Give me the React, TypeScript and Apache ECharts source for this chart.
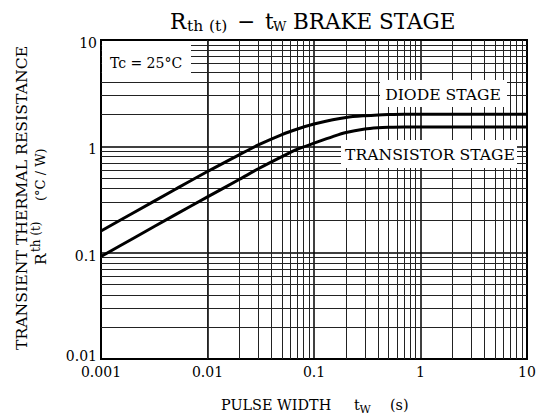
import React, { useEffect, useRef } from "react";
import * as echarts from "echarts";

const pulseWidth = [0.001, 0.002, 0.005, 0.01, 0.02, 0.03, 0.05, 0.07, 0.1, 0.15, 0.2, 0.3, 0.4, 0.5, 0.7, 1, 2, 5, 10];
const diodeStage = [0.16, 0.236, 0.395, 0.58, 0.837, 1.03, 1.29, 1.456, 1.62, 1.78, 1.87, 1.94, 1.975, 1.99, 2.0, 2.0, 2.0, 2.0, 2.0];
const transistorStage = [0.092, 0.136, 0.228, 0.335, 0.49, 0.615, 0.8, 0.94, 1.07, 1.235, 1.35, 1.455, 1.495, 1.51, 1.52, 1.52, 1.52, 1.52, 1.52];

const xTickLabels = ["0.001", "0.01", "0.1", "1", "10"];
const yTickLabels = ["0.01", "0.1", "1", "10"];
const xDecades = [0.001, 0.01, 0.1, 1];
const yDecades = [0.01, 0.1, 1];
const minorSteps = [2, 3, 4, 5, 6, 7, 8, 9];

const FONT = "'DejaVu Serif', 'Liberation Serif', serif";

function labelFor(list: string[], v: number) {
  const found = list.find((s) => Math.abs(Math.log10(Number(s)) - Math.log10(v)) < 1e-6);
  return found ?? "";
}

export default function App() {
  const ref = useRef<HTMLDivElement>(null);
  useEffect(() => {
    if (!ref.current) return;
    const chart = echarts.init(ref.current, null, { renderer: "svg" });
    const xMinor: number[] = [];
    xDecades.forEach((d) => minorSteps.forEach((k) => xMinor.push(d * k)));
    const yMinor: number[] = [];
    yDecades.forEach((d) => minorSteps.forEach((k) => yMinor.push(d * k)));

    const txt = (text: string, x: number, y: number, size: number, extra: any = {}) => ({
      type: "text",
      x,
      y,
      z: 101,
      ...extra,
      style: {
        text,
        fontSize: size,
        fontFamily: FONT,
        fill: "#000",
        align: extra.align ?? "left",
        textAlign: extra.align ?? "left",
        verticalAlign: "middle",
        textVerticalAlign: "middle",
      },
    });

    chart.setOption({
      animation: false,
      backgroundColor: "#fff",
      grid: {
        left: 101,
        right: 16,
        top: 40,
        bottom: 60,
        show: true,
        borderColor: "#000",
        borderWidth: 2,
        backgroundColor: "#fff",
      },
      xAxis: {
        type: "log",
        logBase: 10,
        min: 0.001,
        max: 10,
        splitNumber: 4,
        axisLine: { show: false },
        axisTick: { show: false },
        axisLabel: {
          color: "#000",
          fontFamily: FONT,
          fontSize: 14,
          margin: 6,
          formatter: (v: number) => labelFor(xTickLabels, v),
        },
        splitLine: { show: true, lineStyle: { color: "#000", width: 1.5 } },
      },
      yAxis: {
        type: "log",
        logBase: 10,
        min: 0.01,
        max: 10,
        splitNumber: 3,
        axisLine: { show: false },
        axisTick: { show: false },
        axisLabel: {
          color: "#000",
          fontFamily: FONT,
          fontSize: 14,
          margin: 4,
          formatter: (v: number) => {
            const s = labelFor(yTickLabels, v);
            return s === yTickLabels[0] ? `{lo|${s}}` : `{n|${s}}`;
          },
          rich: {
            n: { fontFamily: FONT, fontSize: 14, color: "#000", padding: [6, 0, 0, 0] },
            lo: { fontFamily: FONT, fontSize: 14, color: "#000", padding: [0, 0, 6, 0] },
          },
        },
        splitLine: { show: true, lineStyle: { color: "#000", width: 1.5 } },
      },
      series: [
        {
          type: "line",
          name: "grid",
          data: [],
          z: 1,
          silent: true,
          markLine: {
            silent: true,
            symbol: ["none", "none"],
            label: { show: false },
            emphasis: { disabled: true },
            lineStyle: { color: "#222", width: 1, type: "solid" },
            data: [
              ...xMinor.map((v) => ({ xAxis: v })),
              ...yMinor.map((v) => ({ yAxis: v })),
            ],
          },
        },
        {
          type: "line",
          name: "DIODE STAGE",
          z: 5,
          data: pulseWidth.map((t, i) => [t, diodeStage[i]]),
          showSymbol: false,
          smooth: 0.3,
          lineStyle: { color: "#000", width: 3 },
        },
        {
          type: "line",
          name: "TRANSISTOR STAGE",
          z: 5,
          data: pulseWidth.map((t, i) => [t, transistorStage[i]]),
          showSymbol: false,
          smooth: 0.3,
          lineStyle: { color: "#000", width: 3 },
        },
      ],
      graphic: [
        { type: "rect", z: 100, shape: { x: 102, y: 41, width: 89, height: 41 }, style: { fill: "#fff" } },
        { type: "rect", z: 100, shape: { x: 380, y: 80, width: 127, height: 27 }, style: { fill: "#fff" } },
        { type: "rect", z: 100, shape: { x: 341, y: 140, width: 176, height: 28 }, style: { fill: "#fff" } },
        txt("Tc = 25°C", 146, 63, 14, { align: "center" }),
        txt("DIODE STAGE", 443, 95, 15.6, { align: "center" }),
        txt("TRANSISTOR STAGE", 430, 155, 15.6, { align: "center" }),
        // title
        txt("R", 170, 21, 21.5),
        txt("th", 187, 26, 15.5),
        txt("(t)", 209, 26, 15.5),
        txt("−", 237, 21, 21.5),
        txt("t", 265, 21, 21.5),
        txt("W", 273, 26, 13),
        txt("BRAKE STAGE", 293, 21, 21.5),
        // y-axis title
        txt("TRANSIENT THERMAL RESISTANCE", 21, 350, 15.7, { rotation: Math.PI / 2 }),
        txt("R", 41, 265, 15.6, { rotation: Math.PI / 2 }),
        txt("th (t)", 36, 252, 12, { rotation: Math.PI / 2 }),
        txt("(°C / W)", 40, 201, 13, { rotation: Math.PI / 2 }),
        // x-axis title
        txt("PULSE WIDTH", 221, 405, 14.4),
        txt("t", 354, 405, 14.4),
        txt("W", 359.5, 409, 11),
        txt("(s)", 390, 405, 14.4),
      ],
    });
    return () => chart.dispose();
  }, []);
  return (
    <div
      ref={ref}
      style={{ position: "fixed", left: 0, top: 0, width: 543, height: 419, background: "#fff" }}
    />
  );
}
